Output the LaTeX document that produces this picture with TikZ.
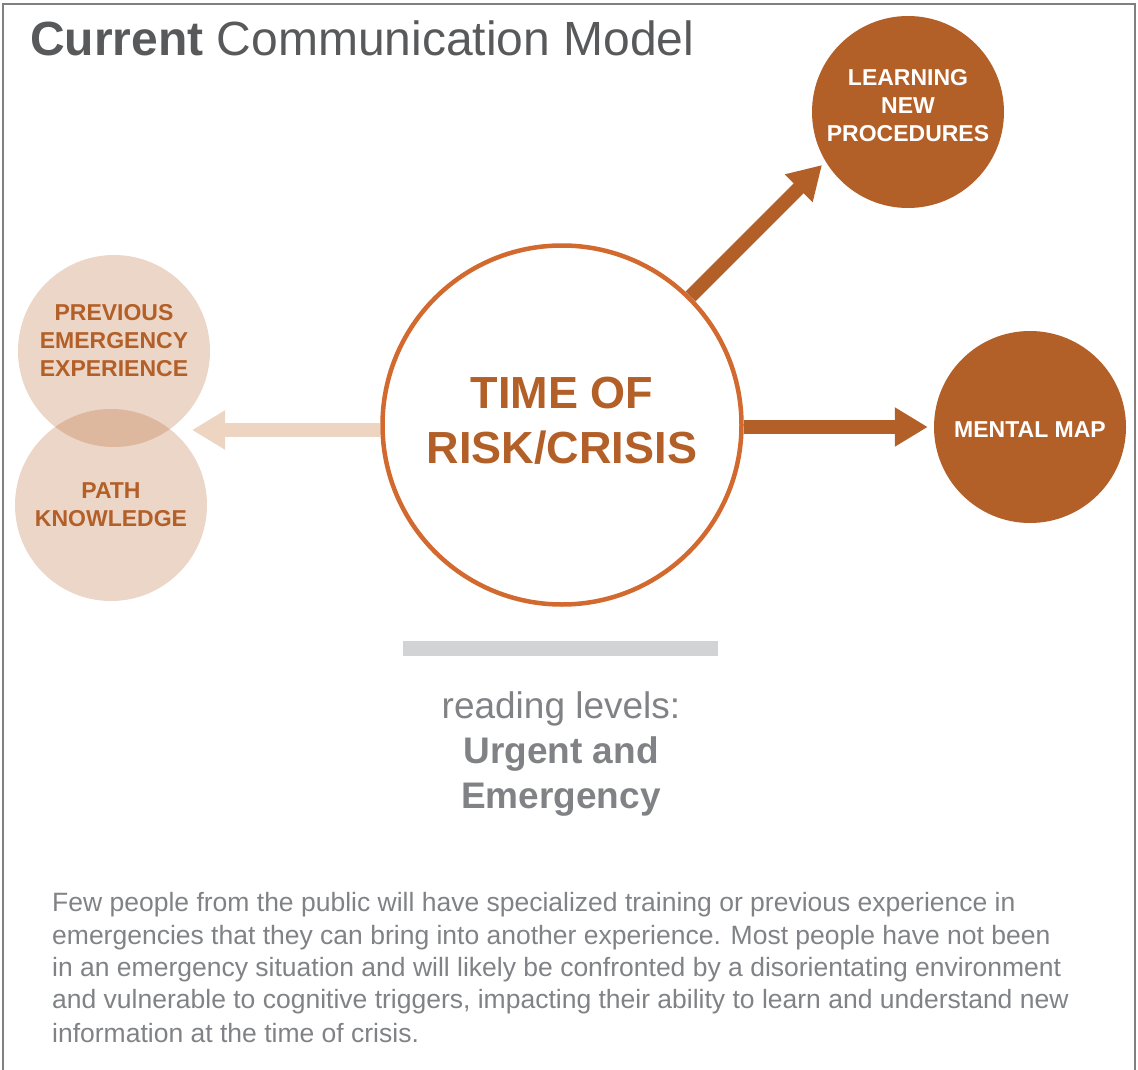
\documentclass[tikz,border=0pt]{standalone}
\usepackage{xcolor}
\usepackage{fontspec}
\setmainfont{Liberation Sans}
\usetikzlibrary{arrows.meta}
\definecolor{rust}{HTML}{B35F28}
\definecolor{ring}{HTML}{D2692E}
\definecolor{pale}{HTML}{EDD5C2}
\definecolor{ink}{HTML}{58595B}
\definecolor{soft}{HTML}{808285}
\definecolor{bar}{HTML}{D1D3D4}

\begin{document}
\begin{tikzpicture}[x=1pt,y=-1pt,
  dark/.style={circle,fill=rust,minimum size=192pt,inner sep=0pt},
  light/.style={circle,fill=rust,fill opacity=0.26,minimum size=192pt,inner sep=0pt},
  balltext/.style={align=center,inner sep=0pt,font=\fontsize{23}{28}\selectfont\bfseries},
  fat/.style={line width=14pt,-{Triangle[length=33pt,width=37pt]}}]
\useasboundingbox (0,0) rectangle (1138,1070);
\draw[line width=1.5pt,gray] (3,1070) -- (3,4) -- (1135,4) -- (1135,1070);

\node (T)[anchor=base west,inner sep=0pt,text=ink,font=\fontsize{48}{56}\selectfont] at (30,56) {\textbf{Current} Communication Model};

\node (C)[circle,draw=ring,line width=4.5pt,minimum size=359pt,inner sep=0pt] at (562,425) {};
\node (CT)[text=rust,align=center,inner sep=0pt,font=\fontsize{45}{55}\selectfont\bfseries] at ([yshift=4.5pt]C.center) {TIME OF\\RISK/CRISIS};

\node (L)[dark] at (908,112) {};
\node (LT)[balltext,text=white] at ([yshift=6pt]L.center) {LEARNING\\NEW\\PROCEDURES};
\node (M)[dark] at (1030,427) {};
\node (MT)[balltext,text=white] at ([yshift=-3pt]M.center) {MENTAL MAP};

\node (P)[light] at (114,351) {};
\node (K)[light] at (111,505) {};
\node (PT)[balltext,text=rust] at ([yshift=10pt]P.center) {PREVIOUS\\EMERGENCY\\EXPERIENCE};
\node (KT)[balltext,text=rust] at (K) {PATH\\KNOWLEDGE};

\coordinate (Lt) at (822,165);
\coordinate (Kt) at (192,430);
\draw[fat,rust] (C.45) -- (Lt);
\draw[fat,rust,shorten >=6pt] (C.east |- M) -- (M.west);
\draw[fat,pale] (C.west |- Kt) -- (Kt);

\node (B)[fill=bar,minimum width=315pt,minimum height=15pt,inner sep=0pt] at (560.5,648.5) {};
\node (R)[text=soft,align=center,font=\fontsize{37}{45}\selectfont] at (561,754) {reading levels:\\\textbf{Urgent and}\\\textbf{Emergency}};

\node (N)[anchor=north west,inner sep=0pt,text=soft,align=left,font=\fontsize{26.5}{32.3}\selectfont] at (52,892.5) {Few people from the public will have specialized training or previous experience in\\emergencies that they can bring into another experience. Most people have not been\\in an emergency situation and will likely be confronted by a disorientating environment\\and vulnerable to cognitive triggers, impacting their ability to learn and understand new\\[1.5pt]information at the time of crisis.};
\end{tikzpicture}
\end{document}
